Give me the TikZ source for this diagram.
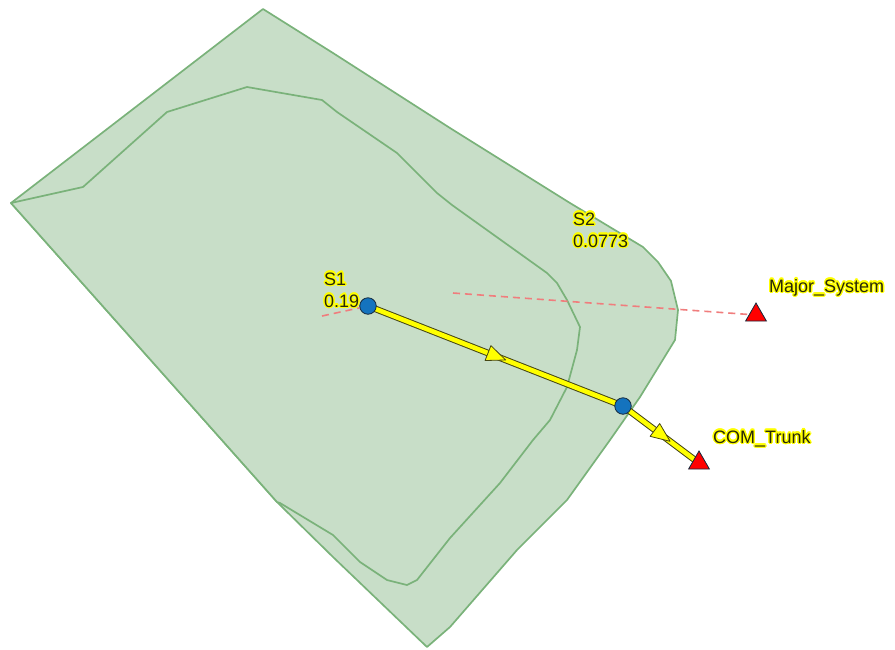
\documentclass[tikz,border=0pt]{standalone}
\usepackage{fontspec}
\setmainfont{Liberation Sans}
\usetikzlibrary{shapes.geometric,decorations.markings}

\definecolor{areafill}{RGB}{200,222,200}
\definecolor{areaedge}{RGB}{122,178,122}
\definecolor{linkyellow}{RGB}{255,255,0}
\definecolor{linkedge}{RGB}{70,70,20}
\definecolor{nodeblue}{RGB}{20,115,190}
\definecolor{nodeedge}{RGB}{20,40,60}
\definecolor{outred}{RGB}{255,0,0}
\definecolor{dashred}{RGB}{240,125,125}
\definecolor{haloY}{RGB}{255,255,0}
\definecolor{labeltext}{RGB}{40,40,10}

% text with a yellow glow around it
\newcommand{\halo}[1]{%
  \foreach \ang in {0,30,...,330}{%
    \pgfmathsetlengthmacro{\hx}{1.4pt*cos(\ang)}%
    \pgfmathsetlengthmacro{\hy}{1.4pt*sin(\ang)}%
    \makebox[0pt][l]{\hspace*{\hx}\raisebox{\hy}{\color{haloY}#1}}%
  }%
  #1}

\pgfdeclarelayer{areas}
\pgfdeclarelayer{links}
\pgfsetlayers{areas,links,main}

\tikzset{
  area/.style={fill=areafill, draw=areaedge, line width=1.7pt, line join=round},
  link/.style={draw=linkedge, line width=1pt, double=linkyellow, double distance=4.6pt},
  flowarrow/.style={fill=linkyellow, draw=linkedge, line width=0.8pt, line join=round},
  junction/.style={circle, fill=nodeblue, draw=nodeedge, line width=0.8pt,
    minimum size=16.5pt, inner sep=0pt},
  outfall/.style={regular polygon, regular polygon sides=3, fill=outred,
    draw=nodeedge, line width=0.8pt, minimum size=24pt, inner sep=0pt},
  outletline/.style={draw=dashred, line width=1.6pt, dash pattern=on 7pt off 5pt},
  lbl/.style={anchor=base west, inner sep=0pt, text=labeltext,
    font=\fontsize{18pt}{20pt}\selectfont}
}

\begin{document}
\begin{tikzpicture}[x=1pt, y=-1pt]
\useasboundingbox (0,0) rectangle (895,649);

% subcatchment areas
\begin{pgfonlayer}{areas}
\draw[area] (11,203) -- (263,9) -- (333,53) -- (450,128) -- (570,203)
  -- (643,247) -- (658,262) -- (671,281) -- (678,310) -- (675,340)
  -- (640,397) -- (610,440) -- (567,500) -- (517,550) -- (450,627)
  -- (427,647) -- (333,557) -- (277,502) -- cycle;
\draw[area] (11,203) -- (83,187) -- (167,112) -- (247,87) -- (322,100)
  -- (337,112) -- (397,153) -- (437,193) -- (452,205) -- (547,273)
  -- (557,283) -- (567,300) -- (580,327) -- (577,350) -- (567,387)
  -- (550,420) -- (533,440) -- (500,483) -- (450,538) -- (417,580)
  -- (407,585) -- (387,580) -- (360,562) -- (333,535) -- (280,503)
  -- (277,502) -- cycle;
\end{pgfonlayer}

% junctions and outfalls
\node[junction] (J1) at (368,306) {};
\node[junction] (J2) at (623,406) {};
\node[outfall] (MajorSystem) at (756,315) {};
\node[outfall] (COMTrunk) at (699,463) {};

% subcatchment centroids
\coordinate (S1c) at (322,316);
\coordinate (S2c) at (453,293);

% subcatchment outlet connections
\begin{pgfonlayer}{links}
\draw[outletline] (S1c) -- (J1);
\draw[outletline] (S2c) -- (MajorSystem);

% conduits with flow direction
\draw[link, postaction={decorate}, decoration={markings,
    mark=at position 0.54 with {\draw[flowarrow] (0pt,0pt) -- (-19pt,8pt) -- (-19pt,-8pt) -- cycle;}}]
  (J1.center) -- (J2.center);
\draw[link, postaction={decorate}, decoration={markings,
    mark=at position 0.62 with {\draw[flowarrow] (0pt,0pt) -- (-19pt,8pt) -- (-19pt,-8pt) -- cycle;}}]
  (J2.center) -- (COMTrunk.center);
\end{pgfonlayer}

% labels
\node[lbl] (S1name) at (324,285) {\halo{S1}};
\node[lbl] (S1val) at (324,307) {\halo{0.19}};
\node[lbl] (S2name) at (573,225) {\halo{S2}};
\node[lbl] (S2val) at (573,247) {\halo{0.0773}};
\node[lbl] (MajorSystemlbl) at (769,292) {\halo{Major\_System}};
\node[lbl] (COMTrunklbl) at (713,443) {\halo{COM\_Trunk}};
\end{tikzpicture}
\end{document}
